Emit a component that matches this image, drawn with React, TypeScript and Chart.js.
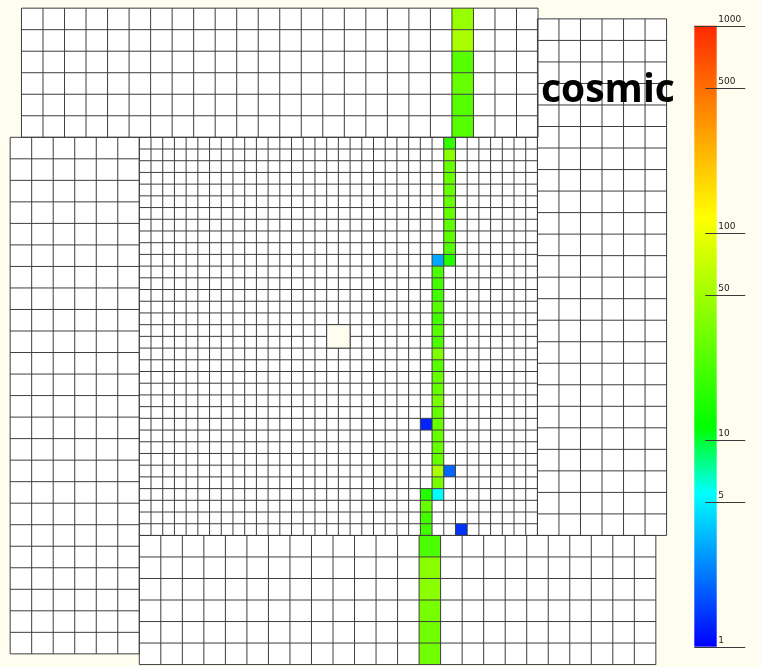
import { useEffect, useRef } from 'react';
import { Chart, registerables } from 'chart.js';

Chart.register(...registerables);

// ---------------- data ----------------
// hits: [column, row, value] in each module's own cell grid
const topHits: number[][] = [
  [20, 0, 46], [20, 1, 54], [20, 2, 25], [20, 3, 29], [20, 4, 25], [20, 5, 25],
];
const bottomHits: number[][] = [
  [13, 0, 23], [13, 1, 40], [13, 2, 40], [13, 3, 34], [13, 4, 32], [13, 5, 32],
];
const leftHits: number[][] = [];
const rightHits: number[][] = [];
const centerHits: number[][] = [
  [26, 0, 18], [26, 1, 40], [26, 2, 29], [26, 3, 29], [26, 4, 29], [26, 5, 29],
  [26, 6, 29], [26, 7, 27], [26, 8, 27], [26, 9, 25], [26, 10, 16],
  [25, 10, 3.1],
  [25, 11, 23], [25, 12, 21], [25, 13, 21], [25, 14, 25], [25, 15, 21], [25, 16, 25],
  [25, 17, 23], [25, 18, 36], [25, 19, 25], [25, 20, 29], [25, 21, 29], [25, 22, 34],
  [25, 23, 29], [25, 24, 29], [25, 25, 29], [25, 26, 29], [25, 27, 29], [25, 28, 54],
  [25, 29, 34], [25, 30, 5.5],
  [24, 24, 1.26], [24, 30, 16], [24, 31, 29], [24, 32, 21], [24, 33, 21],
  [26, 28, 1.98],
  [27, 33, 1.4],
];
const colorbarTicks = [1, 5, 10, 50, 100, 500, 1000];
const colorbarMin = 1;
const colorbarMax = 1000;
const cmapValues = [1, 5.5, 11.5, 118, 1000];
const cmapColors = [
  [0, 0, 255], [0, 255, 255], [0, 255, 0], [255, 255, 0], [255, 40, 0],
];
const label = 'cosmic';

// ---------------- layout ----------------
const W = 761;
const H = 667;
const CREAM = '#fefdef';
const GRID = '#3e3e3e';
const FINE = 1; // central module cell (detector units)
const COARSE = 1.838; // outer module cell
const NC = 34; // central cells per side
const LONG = 24;
const SHORT = 6;
const PX_PER_UNIT = 11.71;
const ORIGIN_X = 139.3;
const ORIGIN_Y = 137.3;
const AREA_TOP = 25.7;
const AREA_BOTTOM = 646.7;
const HOLE = { col: 16, row: 16, size: 2 };
const CB_LEFT = 694.3;
const CB_WIDTH = 22.4;

const panels = [
  { hits: topHits, x0: NC - LONG * COARSE + 0.05, y0: -SHORT * COARSE, cols: LONG, rows: SHORT, cell: COARSE },
  { hits: rightHits, x0: NC, y0: NC - LONG * COARSE, cols: SHORT, rows: LONG, cell: COARSE },
  { hits: bottomHits, x0: 0, y0: NC, cols: LONG, rows: SHORT, cell: COARSE },
  { hits: leftHits, x0: -SHORT * COARSE, y0: 0, cols: SHORT, rows: LONG, cell: COARSE },
  { hits: centerHits, x0: 0, y0: 0, cols: NC, rows: NC, cell: FINE },
];

function colorFor(v: number): string {
  const t = Math.log10(Math.max(v, cmapValues[0]));
  for (let i = 0; i < cmapValues.length - 1; i++) {
    const a = Math.log10(cmapValues[i]);
    const b = Math.log10(cmapValues[i + 1]);
    if (t <= b || i === cmapValues.length - 2) {
      const f = Math.min(1, Math.max(0, (t - a) / (b - a)));
      const c0 = cmapColors[i];
      const c1 = cmapColors[i + 1];
      const c = c0.map((x, k) => Math.round(x + (c1[k] - x) * f));
      return `rgb(${c[0]},${c[1]},${c[2]})`;
    }
  }
  return 'black';
}

const detectorPlugin = {
  id: 'detector',
  beforeDraw(chart: any) {
    const ctx = chart.ctx;
    ctx.save();
    ctx.fillStyle = CREAM;
    ctx.fillRect(0, 0, chart.width, chart.height);
    ctx.restore();
  },
  beforeDatasetsDraw(chart: any) {
    const ctx = chart.ctx;
    const xs = chart.scales.x;
    const ys = chart.scales.y;
    ctx.save();
    ctx.fillStyle = '#ffffff';
    for (const p of panels) {
      const x1 = xs.getPixelForValue(p.x0);
      const x2 = xs.getPixelForValue(p.x0 + p.cols * p.cell);
      const y1 = ys.getPixelForValue(p.y0);
      const y2 = ys.getPixelForValue(p.y0 + p.rows * p.cell);
      ctx.fillRect(x1, y1, x2 - x1, y2 - y1);
    }
    ctx.restore();
  },
  afterDatasetsDraw(chart: any) {
    const ctx = chart.ctx;
    const xs = chart.scales.x;
    const ys = chart.scales.y;
    ctx.save();
    ctx.strokeStyle = GRID;
    ctx.lineWidth = 1;
    for (const p of panels) {
      ctx.beginPath();
      const yA = ys.getPixelForValue(p.y0);
      const yB = ys.getPixelForValue(p.y0 + p.rows * p.cell);
      const xA = xs.getPixelForValue(p.x0);
      const xB = xs.getPixelForValue(p.x0 + p.cols * p.cell);
      for (let i = 0; i <= p.cols; i++) {
        const x = xs.getPixelForValue(p.x0 + i * p.cell);
        ctx.moveTo(x, yA);
        ctx.lineTo(x, yB);
      }
      for (let j = 0; j <= p.rows; j++) {
        const y = ys.getPixelForValue(p.y0 + j * p.cell);
        ctx.moveTo(xA, y);
        ctx.lineTo(xB, y);
      }
      ctx.stroke();
    }
    // beam hole in the central module
    const hx1 = xs.getPixelForValue(HOLE.col * FINE);
    const hx2 = xs.getPixelForValue((HOLE.col + HOLE.size) * FINE);
    const hy1 = ys.getPixelForValue(HOLE.row * FINE);
    const hy2 = ys.getPixelForValue((HOLE.row + HOLE.size) * FINE);
    ctx.fillStyle = CREAM;
    ctx.fillRect(hx1, hy1, hx2 - hx1, hy2 - hy1);
    ctx.strokeRect(hx1, hy1, hx2 - hx1, hy2 - hy1);

    // colour bar
    const cb = chart.scales.cb;
    const yTop = cb.getPixelForValue(colorbarMax);
    const yBot = cb.getPixelForValue(colorbarMin);
    const grad = ctx.createLinearGradient(0, yBot, 0, yTop);
    cmapValues.forEach((v, i) => {
      const c = cmapColors[i];
      grad.addColorStop((yBot - cb.getPixelForValue(v)) / (yBot - yTop), `rgb(${c[0]},${c[1]},${c[2]})`);
    });
    ctx.fillStyle = grad;
    ctx.fillRect(CB_LEFT, yTop, CB_WIDTH, yBot - yTop);

    ctx.strokeStyle = '#3a3a3a';
    ctx.fillStyle = '#222222';
    ctx.font = '9px "DejaVu Sans"';
    ctx.textAlign = 'left';
    ctx.textBaseline = 'alphabetic';
    for (const v of colorbarTicks) {
      const y = Math.round(cb.getPixelForValue(v)) + 0.5;
      const edge = v === colorbarMin || v === colorbarMax;
      ctx.beginPath();
      ctx.moveTo(edge ? CB_LEFT : CB_LEFT + 11, y);
      ctx.lineTo(CB_LEFT + 51, y);
      ctx.stroke();
      ctx.fillText(String(v), CB_LEFT + 24, y - 4.5);
    }

    // label
    ctx.fillStyle = '#000000';
    ctx.font = 'bold 39px "Open Sans"';
    ctx.fillText(label, 541, 101.7);
    ctx.restore();
  },
};

export default function App() {
  const ref = useRef<HTMLCanvasElement | null>(null);
  useEffect(() => {
    const canvas = ref.current;
    if (!canvas) return;
    document.body.style.margin = '0';
    document.body.style.background = CREAM;
    const datasets = panels.map((p) => ({
      data: p.hits.map((h) => ({
        x: p.x0 + (h[0] + 0.5) * p.cell,
        y: p.y0 + (h[1] + 0.5) * p.cell,
        v: h[2],
      })),
      pointStyle: 'rect',
      borderWidth: 0,
      clip: false as any,
      backgroundColor: (c: any) => (c.raw ? colorFor(c.raw.v) : 'transparent'),
      pointRadius: (c: any) => {
        const xs = c.chart.scales.x;
        return Math.abs(xs.getPixelForValue(p.cell) - xs.getPixelForValue(0)) * Math.SQRT1_2;
      },
      pointHoverRadius: 0,
    }));
    const xMin = -ORIGIN_X / PX_PER_UNIT;
    const xMax = (W - ORIGIN_X) / PX_PER_UNIT;
    const yMin = (AREA_TOP - ORIGIN_Y) / PX_PER_UNIT;
    const yMax = (AREA_BOTTOM - ORIGIN_Y) / PX_PER_UNIT;
    const chart = new Chart(canvas, {
      type: 'scatter',
      data: { datasets: datasets as any },
      options: {
        animation: false,
        responsive: false,
        events: [],
        layout: { padding: { top: AREA_TOP, bottom: H - AREA_BOTTOM, left: 0, right: 0 } },
        plugins: { legend: { display: false }, tooltip: { enabled: false } },
        scales: {
          x: { type: 'linear', display: false, min: xMin, max: xMax },
          y: { type: 'linear', display: false, reverse: true, min: yMin, max: yMax },
          cb: { type: 'logarithmic', axis: 'y', display: false, min: colorbarMin, max: colorbarMax },
        },
      } as any,
      plugins: [detectorPlugin],
    });
    return () => chart.destroy();
  }, []);
  return (
    <div style={{ position: 'fixed', left: 0, top: 0, width: W, height: H, background: CREAM }}>
      <canvas ref={ref} width={W} height={H} style={{ display: 'block' }} />
    </div>
  );
}
